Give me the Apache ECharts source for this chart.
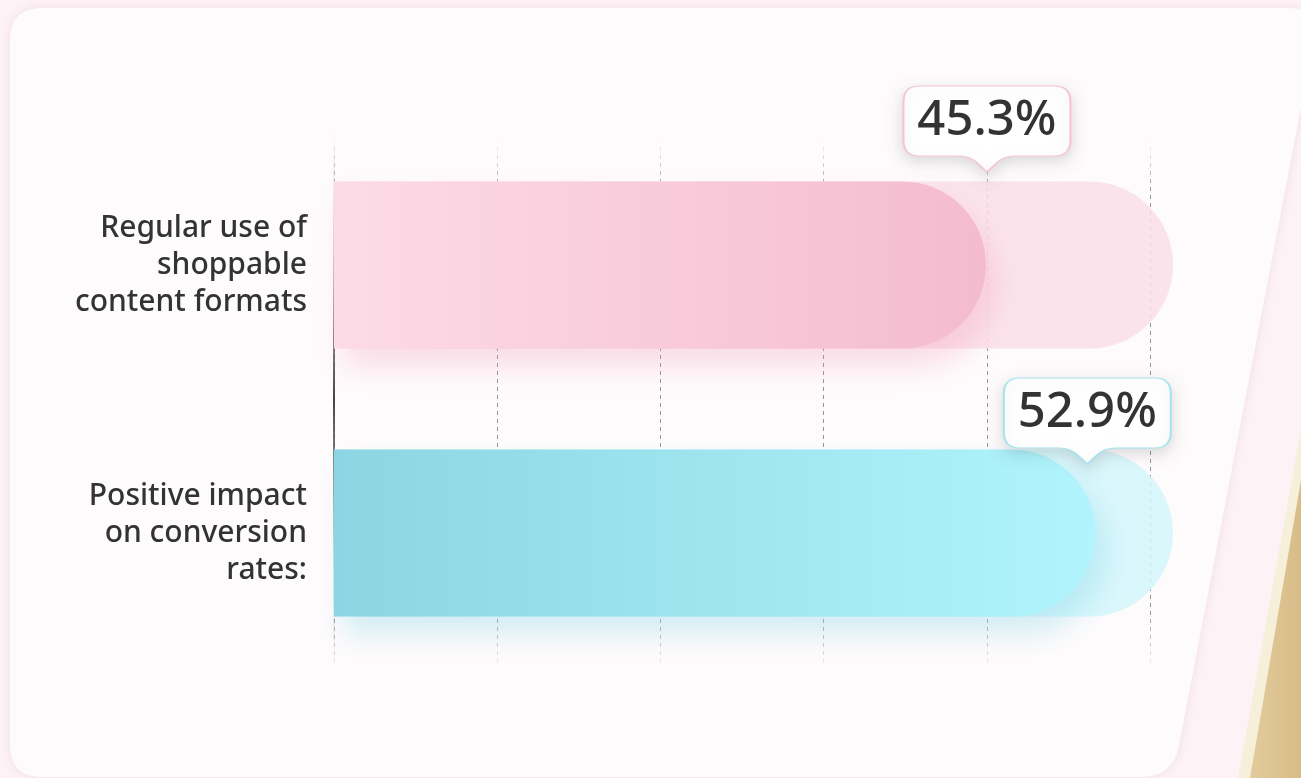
<!DOCTYPE html>
<html>
<head>
<meta charset="utf-8">
<title>Shoppable content</title>
<script src="https://cdn.jsdelivr.net/npm/echarts@6/dist/echarts.min.js"></script>
<style>
  html, body { margin: 0; padding: 0; background: #fdf2f6; }
  #chart { width: 1301px; height: 778px; }
</style>
</head>
<body>
<div id="chart"></div>
<script>
const categories = ['Regular use of\nshoppable\ncontent formats', 'Positive impact\non conversion\nrates:']
const values = [45.3, 52.9]
const trackValues = [58.3, 58.3]
const valueLabels = ['45.3%', '52.9%']

const G = echarts.graphic

// rounded corners for the card outline
function roundedPoly(pts, r) {
  const out = []
  const n = pts.length
  for (let i = 0; i < n; i++) {
    const p0 = pts[(i + n - 1) % n], p1 = pts[i], p2 = pts[(i + 1) % n]
    const d1 = Math.hypot(p0[0] - p1[0], p0[1] - p1[1])
    const d2 = Math.hypot(p2[0] - p1[0], p2[1] - p1[1])
    const a = [p1[0] + (p0[0] - p1[0]) / d1 * r, p1[1] + (p0[1] - p1[1]) / d1 * r]
    const b = [p1[0] + (p2[0] - p1[0]) / d2 * r, p1[1] + (p2[1] - p1[1]) / d2 * r]
    for (let k = 0; k <= 12; k++) {
      const t = k / 12
      out.push([
        (1 - t) * (1 - t) * a[0] + 2 * t * (1 - t) * p1[0] + t * t * b[0],
        (1 - t) * (1 - t) * a[1] + 2 * t * (1 - t) * p1[1] + t * t * b[1]
      ])
    }
  }
  return out
}

const barColors = [
  new G.LinearGradient(0, 0, 1, 0, [
    { offset: 0, color: '#fddbe6' },
    { offset: 1, color: '#f4bbcf' }
  ]),
  new G.LinearGradient(0, 0, 1, 0, [
    { offset: 0, color: '#8bd6e2' },
    { offset: 1, color: '#b1f4fd' }
  ])
]
const trackColors = ['rgba(250,222,232,0.85)', 'rgba(212,246,251,0.85)']
const shadowColors = ['rgba(240,150,180,0.30)', 'rgba(110,205,225,0.30)']
const borderColors = ['#f7c3d4', '#a3e4ee']

const fadeV = (c1, c2) => new G.LinearGradient(0, 138, 0, 676, [
  { offset: 0, color: c1 },
  { offset: 0.1, color: c2 },
  { offset: 0.88, color: c2 },
  { offset: 1, color: c1 }
], true)

const calloutPath = 'path://M16 0 H151 Q167 0 167 16 V54 Q167 70 151 70 H112 Q100 70 92 78 L83.5 86 L75 78 Q67 70 55 70 H16 Q0 70 0 54 V16 Q0 0 16 0 Z'

const chart = echarts.init(document.getElementById('chart'))

chart.setOption({
  backgroundColor: '#fdf2f6',
  animation: false,
  graphic: [
    {
      type: 'polygon',
      z: -10,
      shape: { points: [[1301, 430], [1301, 778], [1238, 778]] },
      style: { fill: '#f6efd9' }
    },
    {
      type: 'polygon',
      z: -10,
      shape: { points: [[1301, 480], [1301, 778], [1250, 778]] },
      style: {
        fill: new G.LinearGradient(0, 0, 1, 0, [
          { offset: 0, color: '#e3cb9c' },
          { offset: 1, color: '#d8bc88' }
        ])
      }
    },
    {
      type: 'polygon',
      z: -5,
      shape: { points: roundedPoly([[10, 8], [1320, 8], [1173, 777], [10, 777]], 32) },
      style: {
        fill: '#fefbfc',
        shadowBlur: 10,
        shadowColor: 'rgba(190,150,165,0.22)'
      }
    }
  ],
  grid: { left: 334, right: 151, top: 131, bottom: 111 },
  xAxis: {
    type: 'value',
    min: 0,
    max: 56.7,
    interval: 11.34,
    axisLabel: { show: false },
    axisTick: { show: false },
    axisLine: { show: false },
    splitLine: {
      show: true,
      lineStyle: { color: fadeV('rgba(150,150,150,0)', 'rgba(130,130,130,0.85)'), type: [4, 4], width: 1 }
    }
  },
  yAxis: {
    type: 'category',
    inverse: true,
    data: categories,
    axisTick: { show: false },
    axisLine: {
      show: true,
      lineStyle: {
        width: 2,
        color: new G.LinearGradient(0, 130, 0, 668, [
          { offset: 0, color: 'rgba(120,120,120,0)' },
          { offset: 0.2, color: 'rgba(120,120,120,0.25)' },
          { offset: 0.5, color: '#444' },
          { offset: 0.8, color: 'rgba(120,120,120,0.25)' },
          { offset: 1, color: 'rgba(120,120,120,0)' }
        ], true)
      }
    },
    axisLabel: {
      margin: 27,
      color: '#333',
      fontFamily: 'Noto Sans',
      fontWeight: 500,
      fontSize: 30,
      lineHeight: 37,
      align: 'right'
    }
  },
  series: [
    {
      type: 'bar',
      clip: false,
      barWidth: 167,
      silent: true,
      data: trackValues.map((v, i) => ({
        value: v,
        itemStyle: { color: trackColors[i], borderRadius: [0, 84, 84, 0] }
      }))
    },
    {
      type: 'bar',
      barWidth: 167,
      barGap: '-100%',
      data: values.map((v, i) => ({
        value: v,
        itemStyle: {
          color: barColors[i],
          borderRadius: [0, 84, 84, 0],
          shadowBlur: 28,
          shadowOffsetX: 10,
          shadowOffsetY: 18,
          shadowColor: shadowColors[i]
        }
      })),
      markPoint: {
        symbol: calloutPath,
        symbolSize: [167, 86],
        label: {
          show: true,
          formatter: '{b}',
          offset: [0, -8],
          color: '#333',
          fontFamily: 'Noto Sans',
          fontWeight: 500,
          fontSize: 49
        },
        data: values.map((v, i) => ({
          name: valueLabels[i],
          coord: [v, i],
          symbolOffset: i === 0 ? [1, -136] : [-8, -112],
          itemStyle: {
            color: '#ffffff',
            borderColor: borderColors[i],
            borderWidth: 1.5,
            shadowBlur: 14,
            shadowOffsetY: 5,
            shadowColor: 'rgba(0,0,0,0.13)'
          }
        }))
      }
    }
  ]
})
</script>
</body>
</html>
